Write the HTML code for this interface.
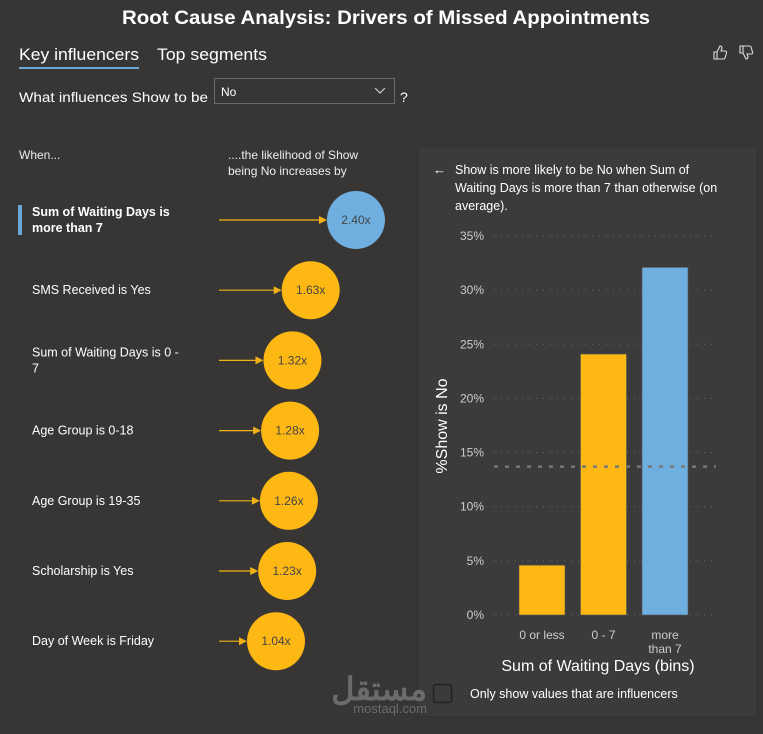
<!DOCTYPE html>
<html><head><meta charset="utf-8"><style>
html,body{margin:0;padding:0;background:#373634;}
body{width:763px;height:729px;overflow:hidden;font-family:"Liberation Sans",sans-serif;}
svg text{font-family:"Liberation Sans",sans-serif;}
</style></head><body>
<svg id="root" width="763" height="729" viewBox="0 0 763 729" xmlns="http://www.w3.org/2000/svg">
<rect x="0" y="0" width="763" height="729" fill="#373634"/>
<text x="386" y="24" text-anchor="middle" font-size="19" font-weight="bold" fill="#fff" textLength="528" lengthAdjust="spacingAndGlyphs">Root Cause Analysis: Drivers of Missed Appointments</text>
<text x="19" y="60" font-size="17" fill="#fff" textLength="120" lengthAdjust="spacingAndGlyphs">Key influencers</text>
<rect x="19" y="67" width="120" height="2" fill="#6aa7d9"/>
<text x="157" y="60" font-size="17" fill="#fff" textLength="110" lengthAdjust="spacingAndGlyphs">Top segments</text>
<path d="M714 52 h3 v7 h-3 z M717 52 l3 -6 q2 0 2 2 l-1 3 h4 q2 0 1.5 2 l-1.5 5 q-0.5 1 -2 1 h-6" fill="none" stroke="#ddd" stroke-width="1.1"/>
<path d="M740 46 h3 v7 h-3 z M743 53 l3 6 q2 0 2 -2 l-1 -3 h4 q2 0 1.5 -2 l-1.5 -5 q-0.5 -1 -2 -1 h-6" fill="none" stroke="#ddd" stroke-width="1.1"/>
<text x="19" y="102" font-size="14" fill="#fff" textLength="189" lengthAdjust="spacingAndGlyphs">What influences Show to be</text>
<g>
<rect x="214.5" y="78.5" width="180" height="25" fill="#373634" stroke="#6a6a6a"/>
<text x="221" y="96" font-size="12" fill="#fff">No</text>
<path d="M375 88 l5 5 l5 -5" fill="none" stroke="#ccc" stroke-width="1.2"/>
</g>
<text x="400" y="102" font-size="14" fill="#fff">?</text>
<text x="19" y="159" font-size="12" fill="#eee">When...</text>
<text x="228" y="159" font-size="12" fill="#eee">....the likelihood of Show</text>
<text x="228" y="175" font-size="12" fill="#eee">being No increases by</text>
<g id="influencers"></g>
<rect x="418.5" y="146.5" width="338" height="570" fill="#3b3b3b" stroke="#333"/>
<text x="433" y="174" font-size="13" fill="#fff">←</text>
<text font-size="12.5" fill="#fff"><tspan x="455" y="174">Show is more likely to be No when Sum of</tspan><tspan x="455" y="192">Waiting Days is more than 7 than otherwise (on</tspan><tspan x="455" y="210">average).</tspan></text>
<g id="chart"></g>
<text x="598" y="671" text-anchor="middle" font-size="16" fill="#fff">Sum of Waiting Days (bins)</text>
<text transform="translate(447,426) rotate(-90)" text-anchor="middle" font-size="16" fill="#fff">%Show is No</text>
<rect x="433.5" y="684.5" width="18" height="18" rx="2" fill="none" stroke="#222" stroke-width="1.5"/>
<text x="470" y="698" font-size="12.5" fill="#fff">Only show values that are influencers</text>
<text x="427" y="700" text-anchor="end" font-size="32" font-weight="bold" fill="#6b6b6b">مستقل</text>
<text x="427" y="713" text-anchor="end" font-size="13" fill="#6b6b6b">mostaql.com</text>
</svg>
<script>
const influencerLabels = [["Sum of Waiting Days is","more than 7"],["SMS Received is Yes"],["Sum of Waiting Days is 0 -","7"],["Age Group is 0-18"],["Age Group is 19-35"],["Scholarship is Yes"],["Day of Week is Friday"]];
const influencerValues = [2.40,1.63,1.32,1.28,1.26,1.23,1.04];
const influencerValueLabels = ["2.40x","1.63x","1.32x","1.28x","1.26x","1.23x","1.04x"];
const binCategories = ["0 or less","0 - 7","more than 7"];
const binValues = [4.6,24.1,32.1];
const averageValue = 13.7;
const yTicks = [0,5,10,15,20,25,30,35];

const NS="http://www.w3.org/2000/svg";
function mk(tag,attrs,parent){const e=document.createElementNS(NS,tag);for(const k in attrs)e.setAttribute(k,attrs[k]);parent.appendChild(e);return e;}
const ig=document.getElementById('influencers');
const cxScale=v=>276+(v-1.04)*58.8;
influencerValues.forEach((v,i)=>{
  const cy=220+i*70.2, cx=cxScale(v), r=29;
  const sel=i===0;
  const g=mk('g',{},ig);
  
  
  if(sel){const b=mk('rect',{x:18,y:cy-15,width:4,height:30,fill:'#6aa7d9'},g);}
  const lines=influencerLabels[i];
  const t=mk('text',{'font-size':12.5,fill:'#fff','font-weight':sel?'bold':'normal'},g);
  
  
  const y0=lines.length>1?cy-4:cy+4;
  lines.forEach((s,j)=>{const ts=mk('tspan',{x:32,y:y0+j*16},t);ts.textContent=s;});
  const ln=mk('line',{x1:219,y1:cy,x2:cx-r-8,y2:cy,stroke:'#f1b215','stroke-width':1.2},g);
  
  
  const ah=mk('path',{d:`M${cx-r-8} ${cy-4} L${cx-r} ${cy} L${cx-r-8} ${cy+4} Z`,fill:'#f1b215'},g);
  
  
  const c=mk('circle',{cx:cx,cy:cy,r:r,fill:sel?'#6fafe0':'#fdb813'},g);
  
  
  const vt=mk('text',{x:cx,y:cy+4,'text-anchor':'middle','font-size':12,fill:'#444'},g);
  
  
  vt.textContent=influencerValueLabels[i];
});
const cg=document.getElementById('chart');
const y0=615, pxPer=(615-236)/35;
const y=v=>y0-v*pxPer;
yTicks.forEach(t=>{
  const l=mk('line',{x1:494,x2:716,y1:y(t),y2:y(t),stroke:'#6a6a6a','stroke-dasharray':'1 6'},cg);
  
  
  const tx=mk('text',{x:484,y:y(t)+4,'text-anchor':'end','font-size':12,fill:'#ccc'},cg);
  
  
  tx.textContent=t+'%';
});
binValues.forEach((v,i)=>{
  const x=519+i*61.5, w=46;
  const b=mk('rect',{x:x,y:y(v),width:w,height:y0-y(v),fill:i===2?'#6fafe0':'#fdb813',stroke:'#555','stroke-width':0.6},cg);
  
  
  const words=binCategories[i]==='more than 7'?['more','than 7']:[binCategories[i]];
  words.forEach((s,j)=>{const tx=mk('text',{x:x+w/2,y:639+j*14,'text-anchor':'middle','font-size':12,fill:'#ccc'},cg);
    
    
    tx.textContent=s;});
});
const av=mk('line',{x1:494,x2:716,y1:y(averageValue),y2:y(averageValue),stroke:'#777','stroke-width':2.5,'stroke-dasharray':'4 7'},cg);


</script>
</body></html>
